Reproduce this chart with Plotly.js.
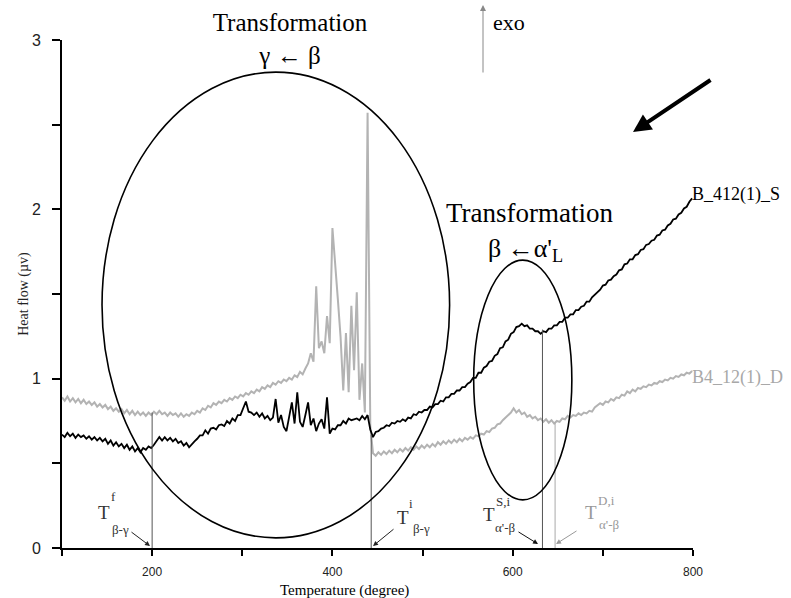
<!DOCTYPE html>
<html><head><meta charset="utf-8">
<script src="https://cdn.plot.ly/plotly-3.0.1.min.js"></script>
<style>html,body{margin:0;padding:0;background:#fff}</style>
</head><body><div id="chart" style="width:791px;height:598px"></div>
<script>
// ---- data (temperature grid: start 100, step 3 degrees) ----
const T_START = 100, T_STEP = 3;
const seriesNames = ['B_412(1)_S', 'B4_12(1)_D'];
const heatFlowS = [
 .67,.655,.68,.66,.675,.65,.67,.655,.665,.645,
 .66,.64,.655,.635,.65,.63,.645,.615,.635,.605,
 .625,.60,.615,.59,.61,.58,.60,.57,.59,.565,
 .59,.58,.60,.59,.61,.635,.655,.635,.655,.635,
 .65,.63,.645,.62,.63,.605,.62,.595,.615,.63,
 .645,.665,.665,.695,.675,.705,.71,.70,.725,.73,
 .72,.75,.735,.765,.75,.785,.785,.82,.865,.805,
 .80,.785,.80,.775,.795,.765,.78,.755,.77,.88,
 .74,.785,.715,.69,.775,.86,.735,.92,.745,.715,
 .785,.86,.725,.765,.69,.735,.76,.705,.89,.675,
 .705,.70,.725,.725,.75,.735,.765,.755,.76,.765,
 .755,.78,.76,.785,.70,.655,.685,.69,.705,.71,
 .725,.72,.74,.735,.75,.745,.76,.75,.77,.765,
 .79,.785,.805,.80,.815,.815,.835,.83,.85,.85,
 .87,.865,.89,.89,.91,.91,.93,.93,.95,.95,
 .97,.98,1.005,1.005,1.035,1.035,1.065,1.075,1.10,1.105,
 1.135,1.145,1.18,1.185,1.22,1.23,1.265,1.275,1.305,1.31,
 1.325,1.31,1.315,1.295,1.295,1.28,1.28,1.265,1.28,1.275,
 1.295,1.295,1.315,1.315,1.335,1.335,1.36,1.36,1.38,1.38,
 1.405,1.405,1.425,1.43,1.455,1.455,1.48,1.495,1.515,1.525,
 1.55,1.555,1.58,1.585,1.605,1.615,1.64,1.645,1.675,1.68,
 1.705,1.705,1.73,1.735,1.76,1.765,1.79,1.795,1.815,1.82,
 1.845,1.85,1.875,1.88,1.905,1.915,1.94,1.945,1.97,1.98,
 2.005,2.015,2.045,2.065
];
const heatFlowD = [
 .89,.87,.895,.865,.885,.86,.88,.855,.875,.85,
 .865,.845,.86,.835,.85,.83,.845,.82,.835,.81,
 .825,.805,.82,.795,.815,.79,.81,.785,.805,.785,
 .80,.78,.80,.785,.805,.79,.81,.79,.80,.78,
 .80,.785,.795,.775,.795,.775,.79,.78,.80,.79,
 .81,.80,.825,.815,.84,.83,.855,.845,.865,.855,
 .875,.865,.885,.875,.895,.885,.905,.895,.915,.905,
 .925,.915,.935,.925,.95,.94,.96,.95,.975,.965,
 .985,.975,.995,.985,1.005,.995,1.02,1.01,1.04,1.025,
 1.06,1.09,1.15,1.10,1.545,1.18,1.22,1.15,1.37,1.21,
 1.89,1.70,1.47,1.25,.93,1.27,.92,1.43,1.05,1.51,
 .875,1.09,.80,2.57,.72,.56,.545,.565,.55,.57,
 .555,.575,.56,.58,.565,.585,.57,.59,.575,.595,
 .58,.60,.585,.605,.59,.61,.595,.615,.60,.625,
 .61,.63,.615,.635,.62,.64,.625,.645,.63,.65,
 .64,.655,.645,.665,.66,.675,.67,.69,.685,.705,
 .71,.73,.735,.755,.77,.79,.80,.825,.80,.815,
 .79,.80,.775,.785,.765,.775,.755,.765,.745,.76,
 .74,.755,.735,.75,.745,.765,.76,.78,.77,.785,
 .78,.795,.785,.80,.795,.81,.805,.83,.84,.855,
 .845,.865,.86,.88,.87,.89,.885,.905,.90,.925,
 .915,.935,.925,.945,.94,.955,.95,.965,.96,.975,
 .97,.985,.98,.995,.99,1.005,1.0,1.015,1.01,1.025,
 1.02,1.035,1.03,1.045
];
// transformation temperature markers and the curve level they reach
const markerTemps = [200, 443, 633, 647];
const markerTops  = [0.80, 0.67, 1.29, 0.74];
const xTickVals = [100, 200, 300, 400, 500, 600, 700, 800];
const xTickText = ['', '200', '', '400', '', '600', '', '800'];
const yTickVals = [0, 0.5, 1, 1.5, 2, 2.5, 3];
const yTickText = ['0', '', '1', '', '2', '', '3'];

// ---- build ----
const temps = heatFlowS.map((_, i) => T_START + i * T_STEP);
const SERIF = 'Liberation Serif, Times New Roman, serif';
const SANS = 'Liberation Sans, Arial, sans-serif';
const colS = '#000000', colD = '#b3b3b3';

const traces = [
  {x: temps, y: heatFlowD, name: seriesNames[1], type: 'scatter', mode: 'lines',
   line: {color: colD, width: 2}},
  {x: temps, y: heatFlowS, name: seriesNames[0], type: 'scatter', mode: 'lines',
   line: {color: colS, width: 1.8}}
];

// reference-pixel -> paper helpers (plot area 62..693 x 40..548)
const PX = p => (p - 62) / 631;
const PY = p => (548 - p) / 508;

function txt(text, px, py, size, color, extra) {
  return Object.assign({text: text, xref: 'paper', yref: 'paper', x: PX(px), y: PY(py),
    showarrow: false, xanchor: 'center', yanchor: 'middle',
    font: {family: SERIF, size: size, color: color || '#000'}}, extra || {});
}
function arr(hx, hy, tx, ty, color, width, size) {
  return {text: '', xref: 'paper', yref: 'paper', x: PX(hx), y: PY(hy),
    ax: tx - hx, ay: ty - hy, showarrow: true, arrowhead: 2,
    arrowsize: size || 1, arrowwidth: width || 1, arrowcolor: color};
}

const last = temps.length - 1;
const annotations = [
  txt('Transformation', 529, 213, 27),
  txt('β <b>←</b>α\'<sub>L</sub>', 525, 250, 26),
  txt('exo', 491, 22, 22, '#000', {xanchor: 'left'}),
  arr(483, 5, 483, 74, '#888', 1, 1.2),
  arr(633, 132, 712, 79, '#000', 4, 0.9),
  {text: seriesNames[0], x: temps[last], y: heatFlowS[last], xref: 'x', yref: 'y',
   xanchor: 'left', yanchor: 'middle', yshift: 4, xshift: -2, showarrow: false,
   font: {family: SERIF, size: 18, color: colS}},
  {text: seriesNames[1], x: temps[last], y: heatFlowD[last], xref: 'x', yref: 'y',
   xanchor: 'left', yanchor: 'middle', yshift: -6, xshift: -2, showarrow: false,
   font: {family: SERIF, size: 18, color: '#a8a8a8'}},
  txt('Temperature (degree)', 344, 590, 15),
  // T^f beta-gamma
  txt('T', 104, 512, 19, '#333'), txt('f', 113, 496, 13, '#333'), txt('β-γ', 120, 529, 13, '#333'),
  arr(150, 546, 130, 531, '#222', 1, 1),
  // T^i beta-gamma
  txt('T', 403, 517, 19, '#333'), txt('i', 411, 503, 13, '#333'), txt('β-γ', 421, 528, 13, '#333'),
  arr(373, 546, 395, 528, '#222', 1, 1),
  // T^{S,i} alpha'-beta
  txt('T', 489, 514, 19, '#333'), txt('S,i', 503, 502, 13, '#333'), txt('α\'-β', 505, 527, 13, '#333'),
  arr(538, 544, 517, 531, '#111', 1, 1),
  // T^{D,i} alpha'-beta
  txt('T', 591, 512, 19, '#999'), txt('D,i', 606, 501, 13, '#999'), txt('α\'-β', 609, 524, 13, '#999'),
  arr(556, 544, 578, 530, '#999', 1, 1)
];

const markerColors = ['#555', '#555', '#555', '#aaa'];
const shapes = markerTemps.map((t, i) => ({type: 'line', xref: 'x', yref: 'y',
  x0: t, x1: t, y0: 0, y1: markerTops[i], line: {color: markerColors[i], width: 1}}));
shapes.push({type: 'circle', xref: 'x', yref: 'y', x0: 144.4, x1: 530, y0: 0.06, y1: 2.81,
  line: {color: '#000', width: 1.6}});
shapes.push({type: 'circle', xref: 'x', yref: 'y', x0: 556.7, x1: 665.6, y0: 0.284, y1: 1.70,
  line: {color: '#000', width: 1.6}});

const layout = {
  width: 791, height: 598,
  margin: {l: 62, r: 98, t: 40, b: 50},
  paper_bgcolor: '#fff', plot_bgcolor: '#fff',
  showlegend: false,
  title: {text: 'Transformation<br>γ <b>←</b> β', xref: 'paper', x: PX(290), xanchor: 'center',
    yref: 'container', y: 1 - 31 / 598, yanchor: 'middle',
    font: {family: SERIF, size: 25, color: '#000'}},
  xaxis: {range: [100, 800], showgrid: false, zeroline: false,
    showline: true, linecolor: '#000', linewidth: 1.6,
    tickmode: 'array', tickvals: xTickVals, ticktext: xTickText,
    ticks: 'outside', ticklen: 6, tickwidth: 1.5, tickcolor: '#000',
    tickfont: {family: SANS, size: 12, color: '#222'}, ticklabelstandoff: 6},
  yaxis: {range: [0, 3], showgrid: false, zeroline: false,
    showline: true, linecolor: '#000', linewidth: 1.6,
    tickmode: 'array', tickvals: yTickVals, ticktext: yTickText,
    ticks: 'outside', ticklen: 8, tickwidth: 1.5, tickcolor: '#000',
    tickfont: {family: SANS, size: 16, color: '#222'}, ticklabelstandoff: 8,
    title: {text: 'Heat flow (µv)', font: {family: SERIF, size: 14, color: '#222'}, standoff: 0}},
  shapes: shapes,
  annotations: annotations
};

Plotly.newPlot('chart', traces, layout, {displayModeBar: false, responsive: false});
</script>
</body></html>
